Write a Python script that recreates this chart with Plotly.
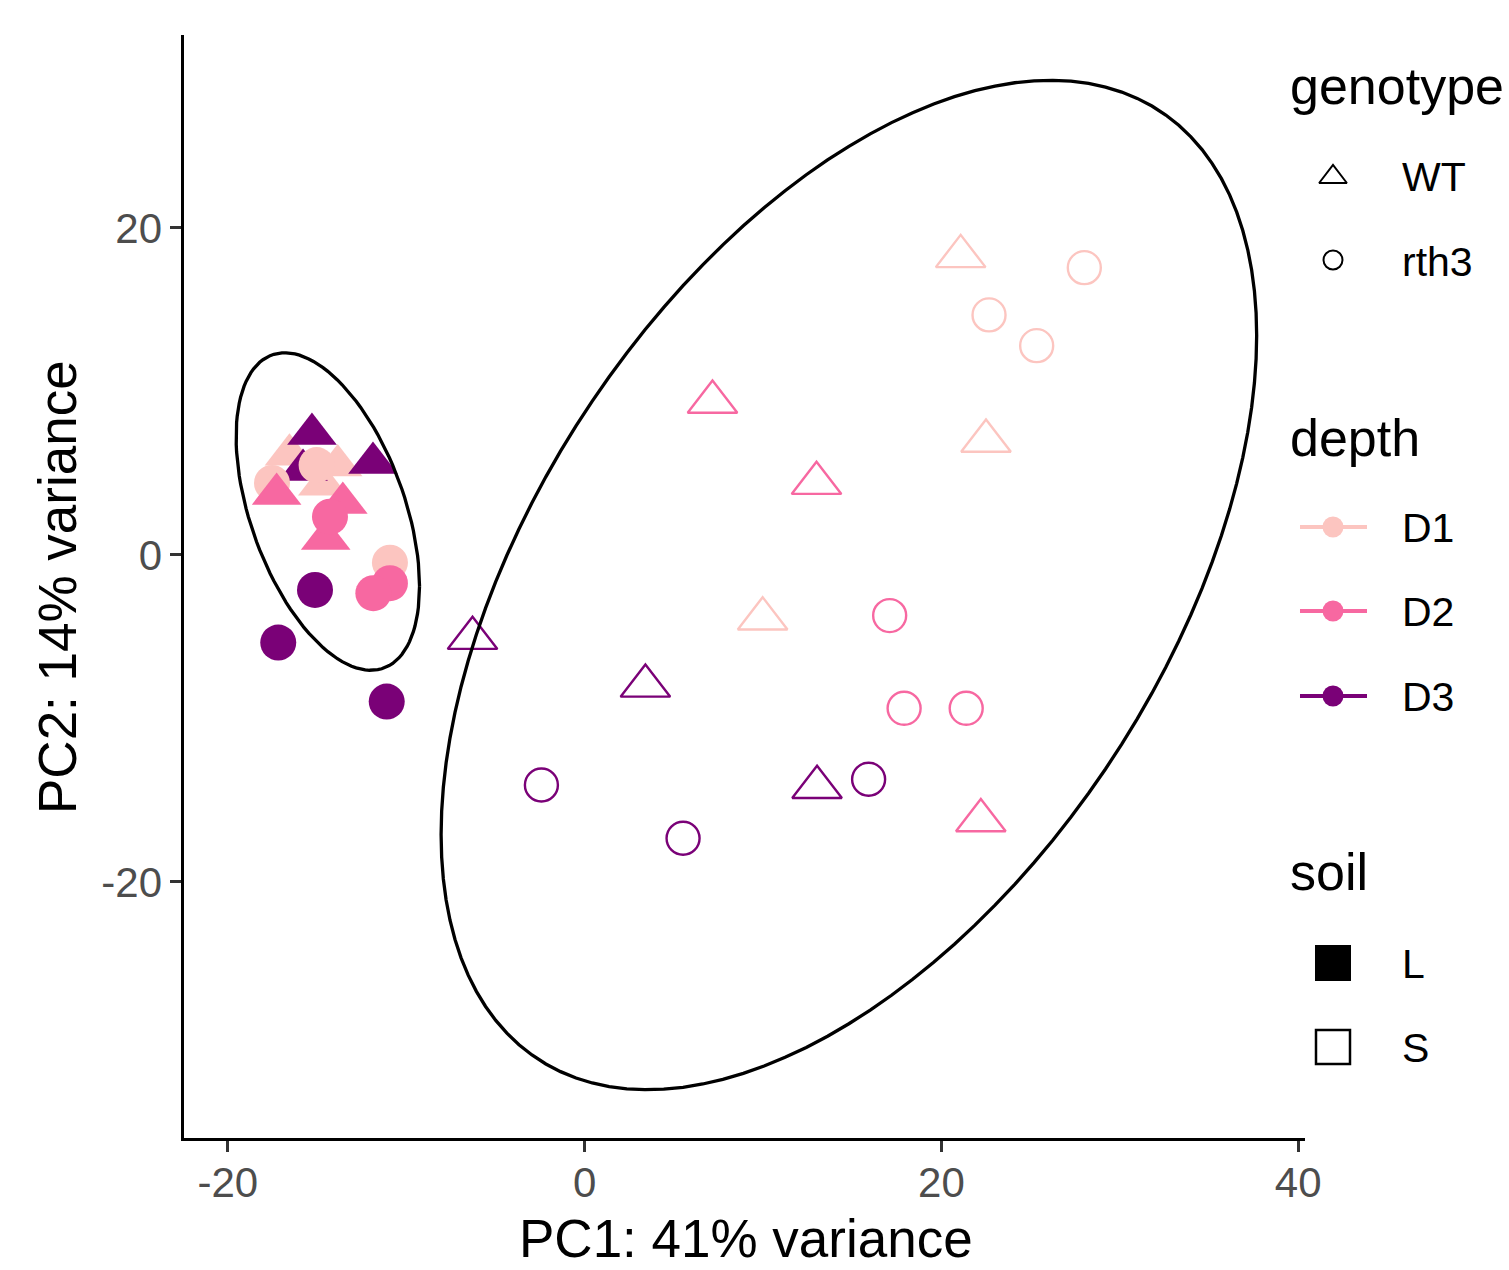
import numpy as np
import plotly.graph_objects as go

# ---------------- data ----------------
genotype = (["WT"] * 6 + ["rth3"] * 3 + ["WT"] * 3 + ["rth3"] * 6 +
            ["WT"] * 9 + ["rth3"] * 9)
depth = (["D1"] * 3 + ["D3"] * 3 + ["D1"] * 3 + ["D2"] * 3 + ["D2"] * 3 + ["D3"] * 3 +
         ["D1"] * 3 + ["D2"] * 3 + ["D3"] * 3 + ["D1"] * 3 + ["D2"] * 3 + ["D3"] * 3)
soil = ["L"] * 18 + ["S"] * 18
pc1 = [-16.54, -13.84, -14.67,
       -15.28, -11.86, -15.78,
       -15.02, -17.52, -10.91,
       -17.26, -13.55, -14.51,
       -14.27, -10.91, -11.84,
       -15.11, -17.17, -11.09,
       21.08, 22.50, 9.98,
       7.17, 13.00, 22.21,
       -6.28, 3.41, 13.03,
       28.01, 22.67, 25.34,
       17.10, 17.91, 21.39,
       -2.42, 5.52, 15.92]
pc2 = [6.13, 5.47, 4.30,
       7.40, 5.63, 5.20,
       5.50, 4.40, -0.47,
       3.73, 3.18, 0.98,
       2.34, -1.73, -2.34,
       -2.14, -5.36, -8.97,
       18.26, 6.97, -3.90,
       9.35, 4.39, -16.24,
       -5.09, -8.01, -14.21,
       17.57, 14.68, 12.80,
       -3.71, -9.38, -9.38,
       -14.07, -17.33, -13.72]

depth_levels = ["D1", "D2", "D3"]
depth_colors = {"D1": "#FCC5C0", "D2": "#F768A1", "D3": "#7A0177"}
genotype_levels = ["WT", "rth3"]
soil_levels = ["L", "S"]
x_ticks = [-20, 0, 20, 40]
y_ticks = [-20, 0, 20]
x_title = "PC1: 41% variance"
y_title = "PC2: 14% variance"

# ---------------- page geometry ----------------
W, H = 1509, 1270
px_left, px_right, px_top, px_bottom = 184.4, 1305.0, 35.0, 1138.0
x_range = [-22.43, 40.38]
y_range = [-35.66, 31.80]

FONT = "Arial, Liberation Sans, sans-serif"


# ---------------- stat_ellipse (type = "t", level = 0.95) ----------------
def cov_trob(X, nu=5, maxit=25, tol=0.01):
    n, p = X.shape
    wt = np.ones(n)
    loc = X.mean(axis=0)
    w = np.sqrt(wt)
    Xc = X - loc
    for _ in range(maxit):
        w0 = w
        Xc = X - loc
        _, d, Vt = np.linalg.svd(np.sqrt(w / w.sum())[:, None] * Xc, full_matrices=False)
        wX = Xc @ Vt.T @ np.diag(1.0 / d)
        Q = (wX ** 2).sum(axis=1)
        w = (wt * (nu + p)) / (nu + Q)
        loc = (w[:, None] * X).sum(axis=0) / w.sum()
        if np.all(np.abs(w - w0) < tol):
            break
    sw = np.sqrt(w)[:, None] * Xc
    cov = sw.T @ sw / wt.sum()
    return loc, cov


def ellipse_points(X, level=0.95, segments=120):
    n = X.shape[0]
    dfd = n - 1
    fq = (dfd / 2.0) * ((1 - level) ** (-2.0 / dfd) - 1)  # qf(level, 2, dfd)
    radius = np.sqrt(2 * fq)
    center, shape = cov_trob(X)
    R = np.linalg.cholesky(shape).T
    ang = np.linspace(0, 2 * np.pi, segments + 1)
    unit = np.column_stack([np.cos(ang), np.sin(ang)])
    pts = center + radius * unit @ R
    return pts[:, 0], pts[:, 1]


fig = go.Figure()

# ---------------- points ----------------
symbols, colors, sizes, lws = [], [], [], []
for g, d, s in zip(genotype, depth, soil):
    tri = g == "WT"
    filled = s == "L"
    sym = "triangle-up" if tri else "circle"
    if not filled:
        sym += "-open"
    symbols.append(sym)
    colors.append(depth_colors[d])
    if tri:
        sizes.append(43)
    else:
        sizes.append(36 if filled else 33)
    lws.append(0 if filled else 2.4)

fig.add_trace(go.Scatter(
    x=pc1, y=pc2, mode="markers", showlegend=False, hoverinfo="skip",
    marker=dict(symbol=symbols, color=colors, size=sizes, opacity=1,
                line=dict(color=colors, width=lws)),
    xaxis="x", yaxis="y"))

# ---------------- ellipses ----------------
for lev in soil_levels:
    X = np.array([[a, b] for a, b, s in zip(pc1, pc2, soil) if s == lev])
    ex, ey = ellipse_points(X)
    fig.add_trace(go.Scatter(x=ex, y=ey, mode="lines", showlegend=False,
                             hoverinfo="skip", line=dict(color="black", width=3.3),
                             xaxis="x", yaxis="y"))

# ---------------- legend (drawn in a pixel-space helper axis) ----------------
lx0 = 0.86 * W
ann = []


def txt(x, y, s, size, color="black"):
    ann.append(dict(x=x / W, y=1 - y / H, xref="paper", yref="paper", text=s,
                    showarrow=False, xanchor="left", yanchor="middle",
                    font=dict(family=FONT, size=size, color=color)))


key_x = 1333
lab_x = 1400
txt(1288, 86, "genotype", 52)
geno_y = {"WT": 175, "rth3": 260}
fig.add_trace(go.Scatter(x=[key_x], y=[geno_y["WT"] + 2], mode="markers", showlegend=False,
                         hoverinfo="skip", xaxis="x2", yaxis="y2",
                         marker=dict(symbol="triangle-up-open", size=24, color="black",
                                     line=dict(width=2, color="black"))))
fig.add_trace(go.Scatter(x=[key_x], y=[geno_y["rth3"]], mode="markers", showlegend=False,
                         hoverinfo="skip", xaxis="x2", yaxis="y2",
                         marker=dict(symbol="circle-open", size=19, color="black",
                                     line=dict(width=2, color="black"))))
for g in genotype_levels:
    txt(lab_x, geno_y[g] + 2, g, 41)

txt(1288, 438, "depth", 52)
depth_y = {"D1": 527, "D2": 611, "D3": 696}
for d in depth_levels:
    fig.add_trace(go.Scatter(x=[1300, key_x, 1367], y=[depth_y[d]] * 3, mode="lines",
                             showlegend=False, hoverinfo="skip", xaxis="x2", yaxis="y2",
                             line=dict(color=depth_colors[d], width=4)))
    fig.add_trace(go.Scatter(x=[key_x], y=[depth_y[d]], mode="markers", showlegend=False,
                             hoverinfo="skip", xaxis="x2", yaxis="y2",
                             marker=dict(symbol="circle", size=21, color=depth_colors[d])))
    txt(lab_x, depth_y[d] + 1, d, 41)

txt(1288, 872, "soil", 52)
soil_y = {"L": 963, "S": 1047}
fig.add_trace(go.Scatter(x=[key_x], y=[soil_y["L"]], mode="markers", showlegend=False,
                         hoverinfo="skip", xaxis="x2", yaxis="y2",
                         marker=dict(symbol="square", size=36, color="black")))
fig.add_trace(go.Scatter(x=[key_x], y=[soil_y["S"]], mode="markers", showlegend=False,
                         hoverinfo="skip", xaxis="x2", yaxis="y2",
                         marker=dict(symbol="square-open", size=34, color="black",
                                     line=dict(width=2.5, color="black"))))
for s in soil_levels:
    txt(lab_x, soil_y[s] + 1, s, 41)

# ---------------- axis titles ----------------
ann.append(dict(x=746 / W, y=1 - 1238 / H, xref="paper", yref="paper", text=x_title,
                showarrow=False, xanchor="center", yanchor="middle",
                font=dict(family=FONT, size=53, color="black")))
ann.append(dict(x=57 / W, y=1 - 587 / H, xref="paper", yref="paper", text=y_title,
                showarrow=False, xanchor="center", yanchor="middle", textangle=-90,
                font=dict(family=FONT, size=53, color="black")))

axis_common = dict(showgrid=False, zeroline=False, showline=True, linecolor="black",
                   linewidth=3, ticks="outside", ticklen=11, tickwidth=3,
                   tickcolor="#333333", automargin=False,
                   tickfont=dict(family=FONT, size=42, color="#4D4D4D"))

fig.update_layout(
    width=W, height=H,
    margin=dict(l=0, r=0, t=0, b=0),
    paper_bgcolor="white", plot_bgcolor="rgba(0,0,0,0)",
    showlegend=False,
    xaxis=dict(domain=[px_left / W, px_right / W], range=x_range,
               tickvals=x_ticks, ticktext=[str(v) for v in x_ticks],
               ticklabelstandoff=-5,
               anchor="y", **axis_common),
    yaxis=dict(domain=[1 - px_bottom / H, 1 - px_top / H], range=y_range,
               tickvals=y_ticks, ticktext=[str(v) for v in y_ticks],
               anchor="x", **axis_common),
    xaxis2=dict(domain=[0.86, 1.0], range=[lx0, W], visible=False, anchor="y2",
                fixedrange=True),
    yaxis2=dict(domain=[0, 1], range=[H, 0], visible=False, anchor="x2",
                fixedrange=True),
    annotations=ann,
)

fig.write_html("out.html")
